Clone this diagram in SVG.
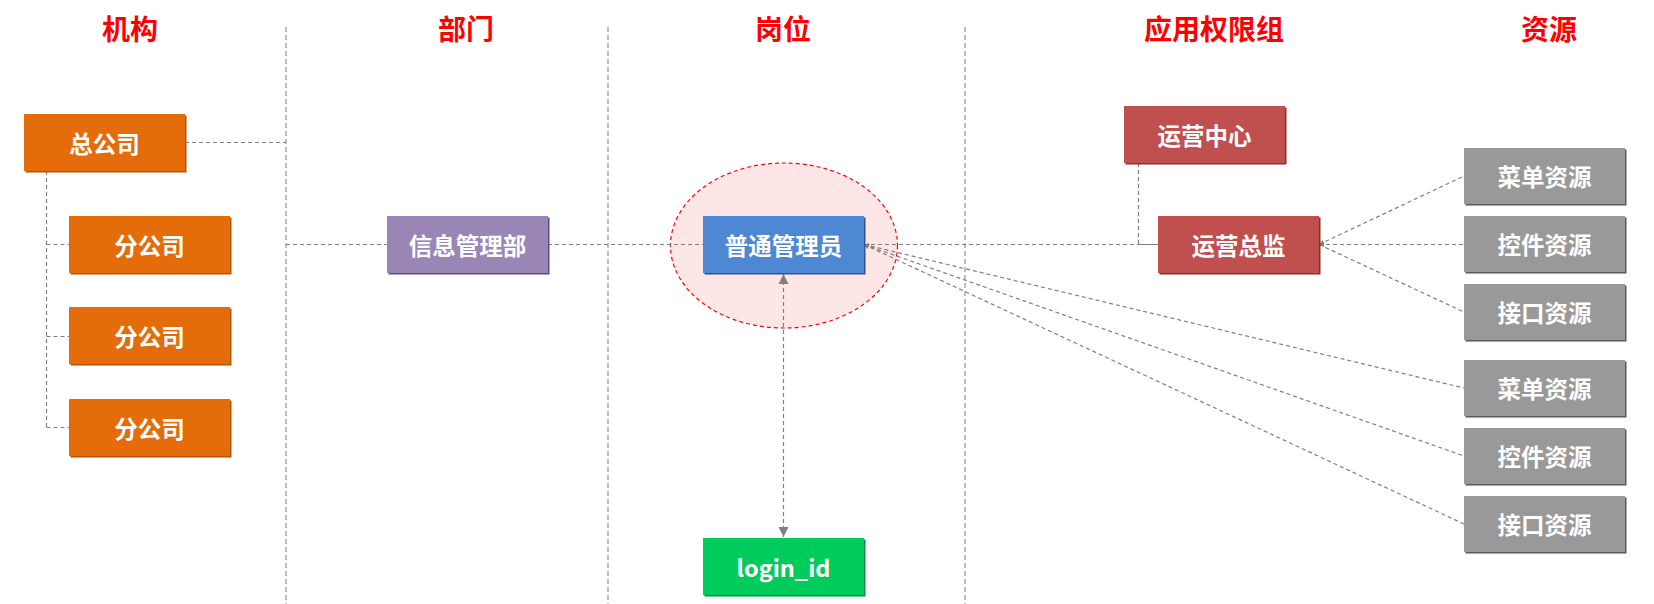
<svg xmlns="http://www.w3.org/2000/svg" width="1654" height="604" viewBox="0 0 1654 604">
<defs>
<style>
.title{font-family:"Noto Sans CJK SC","Microsoft YaHei",sans-serif;font-weight:bold;font-size:28px;fill:#FF0000;text-anchor:middle;dominant-baseline:central}
.lbl{font-family:"Noto Sans CJK SC","Microsoft YaHei",sans-serif;font-weight:bold;font-size:23.5px;fill:#FFFFFF;text-anchor:middle;dominant-baseline:central}
.dash{fill:none;stroke:#808080;stroke-width:1.2;stroke-dasharray:4 3}
.sep{fill:none;stroke:#7F7F7F;stroke-width:1;stroke-dasharray:5 3}
</style>
<marker id="arr" viewBox="0 0 10 10" refX="10" refY="5" markerWidth="10" markerHeight="11" markerUnits="userSpaceOnUse" orient="auto-start-reverse">
<path d="M0,0 L10,5 L0,10 Z" fill="#808080"/>
</marker>
<marker id="tiny" viewBox="0 0 10 10" refX="10" refY="5" markerWidth="5" markerHeight="5" markerUnits="userSpaceOnUse" orient="auto-start-reverse">
<path d="M0,0 L10,5 L0,10 Z" fill="#808080"/>
</marker>
</defs>
<rect width="1654" height="604" fill="#FFFFFF"/>

<g id="titles">
<text class="title" x="130" y="28">机构</text>
<text class="title" x="466" y="28">部门</text>
<text class="title" x="783" y="28">岗位</text>
<text class="title" x="1214" y="28">应用权限组</text>
<text class="title" x="1549" y="28">资源</text>
</g>

<g id="separators">
<line class="sep" x1="286" y1="27" x2="286" y2="604"/>
<line class="sep" x1="608" y1="27" x2="608" y2="604"/>
<line class="sep" x1="965" y1="27" x2="965" y2="604"/>
</g>

<g id="highlight">
<ellipse cx="784" cy="245.5" rx="113.5" ry="82.5" fill="#FFE6E6" stroke="#FF0000" stroke-width="1.2" stroke-dasharray="4 3"/>
</g>

<g id="connectors">
<path class="dash" d="M185,142.5 H286"/>
<path class="dash" d="M46.5,171 V427.5 M46.5,244.5 H69 M46.5,336.5 H69 M46.5,427.5 H69"/>
<path class="dash" d="M286,244.5 H387 M548,244.5 H703 M864,244.5 H1158"/>
<path class="dash" d="M1138.5,163 V244.5 H1158"/>
<path class="dash" d="M1319,244.5 L1464,176" marker-start="url(#tiny)"/>
<path class="dash" d="M1319,244.5 L1464,244.5" marker-start="url(#tiny)"/>
<path class="dash" d="M1319,244.5 L1464,312"/>
<path class="dash" d="M864,244.5 L1464,388" marker-start="url(#tiny)"/>
<path class="dash" d="M864,244.5 L1464,456" marker-start="url(#tiny)"/>
<path class="dash" d="M864,244.5 L1464,524" marker-start="url(#tiny)"/>
<path class="dash" d="M783.5,274 V537" marker-start="url(#arr)" marker-end="url(#arr)"/>
</g>

<g id="n-zonggongsi">
<rect x="25.5" y="115.5" width="161" height="57" fill="#B85400"/>
<rect x="24" y="114" width="161" height="57" fill="#E46C0A"/>
<text class="lbl" x="104.5" y="142.5">总公司</text>
</g>
<g id="n-fen1">
<rect x="70.5" y="217.5" width="161" height="57" fill="#B85400"/>
<rect x="69" y="216" width="161" height="57" fill="#E46C0A"/>
<text class="lbl" x="149.5" y="244.5">分公司</text>
</g>
<g id="n-fen2">
<rect x="70.5" y="308.5" width="161" height="57" fill="#B85400"/>
<rect x="69" y="307" width="161" height="57" fill="#E46C0A"/>
<text class="lbl" x="149.5" y="335.5">分公司</text>
</g>
<g id="n-fen3">
<rect x="70.5" y="400.5" width="161" height="57" fill="#B85400"/>
<rect x="69" y="399" width="161" height="57" fill="#E46C0A"/>
<text class="lbl" x="149.5" y="427.5">分公司</text>
</g>
<g id="n-xinxi">
<rect x="388.5" y="217.5" width="161" height="57" fill="#5F4B82"/>
<rect x="387" y="216" width="161" height="57" fill="#9A86B6"/>
<text class="lbl" x="467.5" y="244.5">信息管理部</text>
</g>
<g id="n-putong">
<rect x="704.5" y="217.5" width="161" height="57" fill="#2F5597"/>
<rect x="703" y="216" width="161" height="57" fill="#4F88D2"/>
<text class="lbl" x="783.5" y="244.5">普通管理员</text>
</g>
<g id="n-login">
<rect x="704.5" y="539.5" width="161" height="57" fill="#00913F"/>
<rect x="703" y="538" width="161" height="57" fill="#00CC5C"/>
<text class="lbl" x="783.5" y="566.5">login_id</text>
</g>
<g id="n-yunying-center">
<rect x="1125.5" y="107.5" width="161" height="57" fill="#8C2F2C"/>
<rect x="1124" y="106" width="161" height="57" fill="#C0504D"/>
<text class="lbl" x="1204.5" y="134.5">运营中心</text>
</g>
<g id="n-yunying-zongjian">
<rect x="1159.5" y="217.5" width="161" height="57" fill="#8C2F2C"/>
<rect x="1158" y="216" width="161" height="57" fill="#C0504D"/>
<text class="lbl" x="1238.5" y="244.5">运营总监</text>
</g>
<g id="n-res1">
<rect x="1465.5" y="149.5" width="161" height="56" fill="#595959"/>
<rect x="1464" y="148" width="161" height="56" fill="#999999"/>
<text class="lbl" x="1544.5" y="176">菜单资源</text>
</g>
<g id="n-res2">
<rect x="1465.5" y="217.5" width="161" height="56" fill="#595959"/>
<rect x="1464" y="216" width="161" height="56" fill="#999999"/>
<text class="lbl" x="1544.5" y="244">控件资源</text>
</g>
<g id="n-res3">
<rect x="1465.5" y="285.5" width="161" height="56" fill="#595959"/>
<rect x="1464" y="284" width="161" height="56" fill="#999999"/>
<text class="lbl" x="1544.5" y="312">接口资源</text>
</g>
<g id="n-res4">
<rect x="1465.5" y="361.5" width="161" height="56" fill="#595959"/>
<rect x="1464" y="360" width="161" height="56" fill="#999999"/>
<text class="lbl" x="1544.5" y="388">菜单资源</text>
</g>
<g id="n-res5">
<rect x="1465.5" y="429.5" width="161" height="56" fill="#595959"/>
<rect x="1464" y="428" width="161" height="56" fill="#999999"/>
<text class="lbl" x="1544.5" y="456">控件资源</text>
</g>
<g id="n-res6">
<rect x="1465.5" y="497.5" width="161" height="56" fill="#595959"/>
<rect x="1464" y="496" width="161" height="56" fill="#999999"/>
<text class="lbl" x="1544.5" y="524">接口资源</text>
</g>
</svg>
